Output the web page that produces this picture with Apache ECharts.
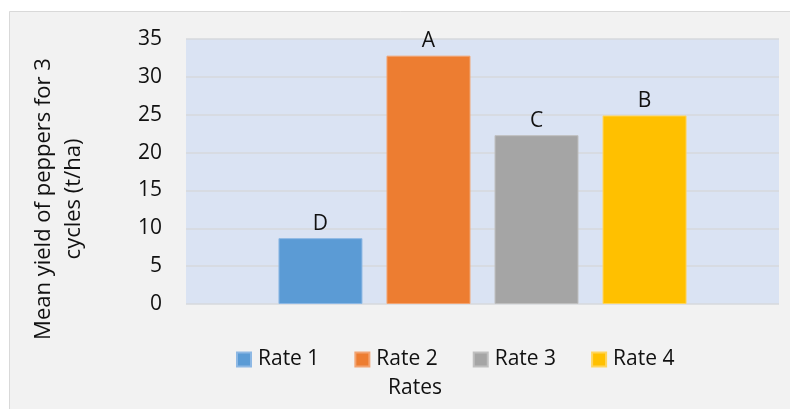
<!DOCTYPE html>
<html>
<head>
<meta charset="utf-8">
<script src="https://cdn.jsdelivr.net/npm/echarts@6/dist/echarts.min.js"></script>
<style>
  html, body { margin: 0; padding: 0; background: #ffffff; }
  #chart { width: 790px; height: 409px; }
</style>
</head>
<body>
<div id="chart"></div>
<script>
// Mean pepper yield per application rate, with significance letters
const categories = ['Rates'];
const seriesNames = ['Rate 1', 'Rate 2', 'Rate 3', 'Rate 4'];
const yieldValues = [8.7, 32.8, 22.3, 24.9];
const groupLetters = ['D', 'A', 'C', 'B'];
const yTicks = { min: 0, max: 35, interval: 5 };

const colors = ['#5b9bd5', '#ed7d31', '#a5a5a5', '#ffc000'];
const borders = ['#8db8e4', '#f2a472', '#bfbfbf', '#ffd55c'];
const FONT = '"Open Sans", "Noto Sans", sans-serif';

const chart = echarts.init(document.getElementById('chart'));

const series = seriesNames.map((name, i) => ({
  name: name,
  type: 'bar',
  data: [yieldValues[i]],
  barWidth: 84,
  barGap: '28.6%',
  itemStyle: { color: colors[i], borderColor: borders[i], borderWidth: 1 },
  label: {
    show: true,
    position: 'top',
    distance: 4,
    formatter: () => groupLetters[i],
    fontFamily: FONT,
    fontSize: 21,
    color: '#111'
  }
}));

chart.setOption({
  animation: false,
  backgroundColor: '#ffffff',
  textStyle: { fontFamily: FONT },
  graphic: [
    {
      type: 'rect',
      z: -10,
      shape: { x: 9.5, y: 11.5, width: 800, height: 420 },
      style: { fill: '#f2f2f2', stroke: '#d9d9d9', lineWidth: 1 }
    },
    {
      type: 'text',
      x: 59, y: 199,
      rotation: Math.PI / 2,
      style: {
        text: 'Mean yield of peppers for 3\ncycles (t/ha)',
        font: '22px ' + FONT,
        fill: '#111',
        align: 'center',
        verticalAlign: 'middle',
        lineHeight: 30
      }
    },
    {
      type: 'text',
      x: 415, y: 388,
      style: {
        text: 'Rates',
        font: '21px ' + FONT,
        fill: '#111',
        align: 'center',
        verticalAlign: 'middle'
      }
    }
  ],
  grid: {
    left: 186, right: 11, top: 39, bottom: 105,
    show: true,
    backgroundColor: '#dae3f3',
    borderWidth: 0
  },
  legend: {
    data: seriesNames,
    left: 236,
    top: 349,
    padding: 0,
    itemWidth: 14,
    itemHeight: 14,
    itemGap: 35,
    icon: 'rect',
    textStyle: { fontFamily: FONT, fontSize: 21, color: '#111', padding: [0, 0, 0, 2] }
  },
  xAxis: {
    type: 'category',
    data: categories,
    axisLine: { show: false },
    axisTick: { show: false },
    axisLabel: { show: false }
  },
  yAxis: {
    type: 'value',
    min: yTicks.min,
    max: yTicks.max,
    interval: yTicks.interval,
    axisLine: { show: false },
    axisTick: { show: false },
    axisLabel: { margin: 24, fontFamily: FONT, fontSize: 21, color: '#111' },
    splitLine: { lineStyle: { color: '#d6d8dc', width: 1.5 } }
  },
  series: series
});
</script>
</body>
</html>
